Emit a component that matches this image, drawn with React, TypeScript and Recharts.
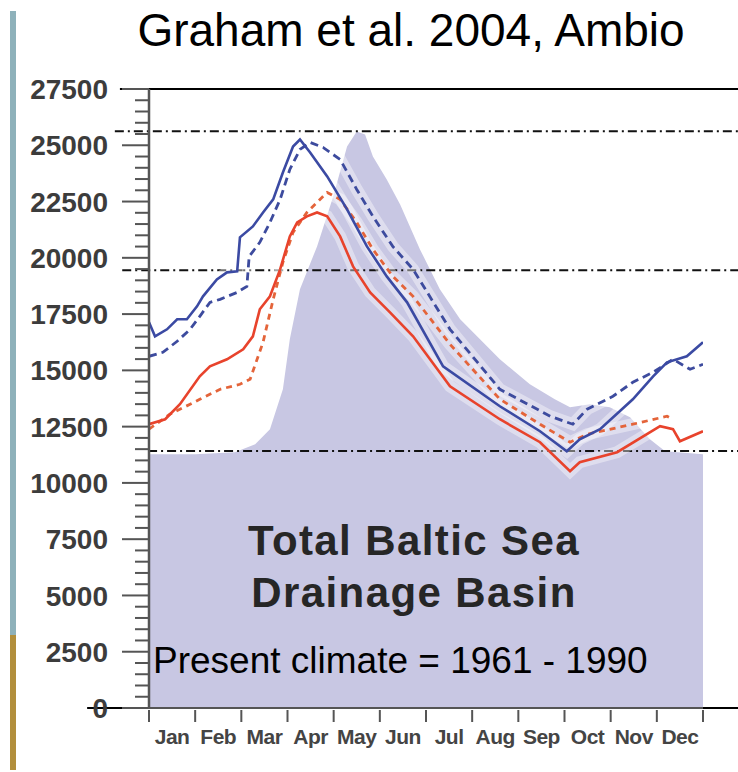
import React from 'react';
import { ComposedChart, Area, Line, XAxis, YAxis, ReferenceLine } from 'recharts';

// ---- categories / tick labels ----
const MONTHS = ['Jan', 'Feb', 'Mar', 'Apr', 'May', 'Jun', 'Jul', 'Aug', 'Sep', 'Oct', 'Nov', 'Dec'];
const MONTH_BOUNDS = [0, 1, 2, 3, 4, 5, 6, 7, 8, 9, 10, 11, 12];
const Y_MAJOR = [0, 2500, 5000, 7500, 10000, 12500, 15000, 17500, 20000, 22500, 25000, 27500];
const Y_MINOR_STEP = 500;

// ---- series (m = month position, v = discharge m3/s) ----
const basinFlow = [
  { m: 0, v: 11275 }, { m: 1.0, v: 11275 }, { m: 1.86, v: 11364 }, { m: 2.3, v: 11719 },
  { m: 2.62, v: 12385 }, { m: 2.9, v: 14160 }, { m: 3.05, v: 16380 }, { m: 3.27, v: 18600 },
  { m: 3.64, v: 20508 }, { m: 3.99, v: 22728 }, { m: 4.29, v: 24947 }, { m: 4.5, v: 25613 },
  { m: 4.68, v: 25480 }, { m: 4.85, v: 24503 }, { m: 5.15, v: 23482 }, { m: 5.44, v: 22373 },
  { m: 5.87, v: 20375 }, { m: 6.3, v: 18600 }, { m: 6.74, v: 17268 }, { m: 7.17, v: 16380 },
  { m: 7.6, v: 15492 }, { m: 8.25, v: 14382 }, { m: 8.79, v: 13717 }, { m: 9.12, v: 13361 },
  { m: 9.55, v: 13495 }, { m: 9.98, v: 13361 }, { m: 10.42, v: 12918 }, { m: 10.85, v: 11941 },
  { m: 11.18, v: 11408 }, { m: 12, v: 11275 },
];

const blueSolid = [
  { m: 0, v: 17135 }, { m: 0.13, v: 16513 }, { m: 0.39, v: 16824 }, { m: 0.61, v: 17268 },
  { m: 0.82, v: 17268 }, { m: 1.04, v: 17845 }, { m: 1.17, v: 18289 }, { m: 1.47, v: 19043 },
  { m: 1.69, v: 19354 }, { m: 1.91, v: 19398 }, { m: 1.97, v: 20908 }, { m: 2.25, v: 21396 },
  { m: 2.47, v: 22017 }, { m: 2.69, v: 22595 }, { m: 2.9, v: 23793 }, { m: 3.12, v: 24947 },
  { m: 3.27, v: 25258 }, { m: 3.49, v: 24681 }, { m: 3.86, v: 23615 }, { m: 4.29, v: 22151 },
  { m: 4.72, v: 20508 }, { m: 5.15, v: 19176 }, { m: 5.59, v: 18022 }, { m: 6.37, v: 15181 },
  { m: 7.6, v: 13406 }, { m: 8.47, v: 12296 }, { m: 9.05, v: 11408 }, { m: 9.33, v: 11941 },
  { m: 9.77, v: 12385 }, { m: 10.48, v: 13717 }, { m: 10.92, v: 14737 }, { m: 11.22, v: 15359 },
  { m: 11.65, v: 15625 }, { m: 12, v: 16247 },
];

const blueDashed = [
  { m: 0, v: 15625 }, { m: 0.3, v: 15803 }, { m: 0.61, v: 16291 }, { m: 0.89, v: 16824 },
  { m: 1.1, v: 17401 }, { m: 1.32, v: 18022 }, { m: 1.54, v: 18155 }, { m: 1.91, v: 18466 },
  { m: 2.12, v: 18733 }, { m: 2.17, v: 20064 }, { m: 2.4, v: 20686 }, { m: 2.62, v: 21574 },
  { m: 2.84, v: 22595 }, { m: 3.05, v: 23926 }, { m: 3.27, v: 24814 }, { m: 3.49, v: 25125 },
  { m: 3.77, v: 24903 }, { m: 4.14, v: 24370 }, { m: 4.5, v: 23038 }, { m: 4.85, v: 21840 },
  { m: 5.28, v: 20508 }, { m: 5.72, v: 19487 }, { m: 6.52, v: 16824 }, { m: 7.6, v: 14160 },
  { m: 8.69, v: 12962 }, { m: 9.18, v: 12607 }, { m: 9.49, v: 13273 }, { m: 10.05, v: 13850 },
  { m: 10.48, v: 14471 }, { m: 10.92, v: 14915 }, { m: 11.35, v: 15492 }, { m: 11.72, v: 15048 },
  { m: 12, v: 15270 },
];

const redSolid = [
  { m: 0, v: 12607 }, { m: 0.35, v: 12829 }, { m: 0.67, v: 13495 }, { m: 1.1, v: 14737 },
  { m: 1.32, v: 15181 }, { m: 1.69, v: 15492 }, { m: 2.04, v: 15936 }, { m: 2.25, v: 16513 },
  { m: 2.4, v: 17712 }, { m: 2.62, v: 18289 }, { m: 2.84, v: 19487 }, { m: 3.05, v: 20952 },
  { m: 3.21, v: 21574 }, { m: 3.42, v: 21840 }, { m: 3.64, v: 22017 }, { m: 3.86, v: 21840 },
  { m: 4.14, v: 20952 }, { m: 4.42, v: 19620 }, { m: 4.79, v: 18466 }, { m: 5.22, v: 17578 },
  { m: 5.72, v: 16513 }, { m: 6.52, v: 14293 }, { m: 7.6, v: 12829 }, { m: 8.47, v: 11808 },
  { m: 9.12, v: 10520 }, { m: 9.33, v: 10920 }, { m: 10.14, v: 11364 }, { m: 11.07, v: 12518 },
  { m: 11.35, v: 12385 }, { m: 11.5, v: 11852 }, { m: 12, v: 12296 },
];

const redDashed = [
  { m: 0, v: 12385 }, { m: 0.45, v: 13051 }, { m: 0.89, v: 13495 }, { m: 1.1, v: 13717 },
  { m: 1.54, v: 14160 }, { m: 1.97, v: 14382 }, { m: 2.19, v: 14604 }, { m: 2.47, v: 16247 },
  { m: 2.69, v: 18155 }, { m: 2.9, v: 19798 }, { m: 3.12, v: 21130 }, { m: 3.42, v: 22017 },
  { m: 3.64, v: 22461 }, { m: 3.86, v: 22905 }, { m: 4.14, v: 22595 }, { m: 4.5, v: 21574 },
  { m: 4.85, v: 20375 }, { m: 5.28, v: 19176 }, { m: 5.72, v: 18289 }, { m: 6.52, v: 16158 },
  { m: 7.6, v: 13717 }, { m: 8.47, v: 12607 }, { m: 9.12, v: 11808 }, { m: 9.49, v: 12163 },
  { m: 10.48, v: 12607 }, { m: 11.22, v: 12962 }, { m: 11.35, v: 12829 },
];

// horizontal reference levels
const DASHDOT_LEVELS = [25626, 19443, 11422];
const DASHDOT_STARTS = [-0.74, -0.58, -0.02];
const TOP_LEVEL = 27500;

// ---- layout ----
const W = 738;
const H = 772;
const PLOT_LEFT = 149;
const PLOT_RIGHT = 703;
const PLOT_TOP = 89;
const PLOT_BOTTOM = 708;
const X_MAX = 12;
const HALF_MONTH = (PLOT_RIGHT - PLOT_LEFT) / X_MAX / 2;
const FONT = '"Liberation Sans", Arial, Helvetica, sans-serif';

const yTicks: number[] = [];
for (let t = 0; t <= 27500; t += Y_MINOR_STEP) yTicks.push(t);

const YTick = (props: any) => {
  const { x, y, payload } = props;
  const v = payload.value as number;
  const major = Y_MAJOR.includes(v);
  return (
    <g>
      <line x1={x - (major ? 27 : 14)} x2={x} y1={y} y2={y} stroke="#555" strokeWidth={2} />
      {major && (
        <text x={x - 41} y={y} dy="0.36em" textAnchor="end" fontFamily={FONT} fontWeight="bold"
          fontSize={28} fill="#3c3c3c">{v}</text>
      )}
    </g>
  );
};

const XTick = (props: any) => {
  const { x, y, payload } = props;
  const i = payload.value as number;
  return (
    <g>
      <line x1={x} x2={x} y1={y + 2} y2={y + 14} stroke="#555" strokeWidth={2} />
      {i < MONTHS.length && (
        <text x={x + HALF_MONTH} y={y + 36} textAnchor="middle" fontFamily={FONT} fontWeight="bold"
          fontSize={21} letterSpacing={-0.5} fill="#444">{MONTHS[i]}</text>
      )}
    </g>
  );
};

const xRight = X_MAX + (W - PLOT_RIGHT) / ((PLOT_RIGHT - PLOT_LEFT) / X_MAX);

export default function App() {
  return (
    <div style={{ position: 'absolute', left: 0, top: 0, width: W, height: H, background: '#fff', overflow: 'hidden' }}>
      <div style={{ position: 'absolute', left: 10, top: 11, width: 6, height: 624, background: '#8eb1ba' }} />
      <div style={{ position: 'absolute', left: 10, top: 635, width: 6, height: 135, background: '#b28f3c' }} />
      <ComposedChart
        width={W}
        height={H}
        margin={{ top: PLOT_TOP, right: W - PLOT_RIGHT, bottom: 0, left: 0 }}
      >
        <XAxis
          type="number"
          dataKey="m"
          domain={[0, X_MAX]}
          ticks={MONTH_BOUNDS}
          interval={0}
          allowDataOverflow
          height={H - PLOT_BOTTOM}
          tickSize={0}
          tickMargin={0}
          tickLine={false}
          axisLine={{ stroke: '#555', strokeWidth: 2 }}
          tick={<XTick />}
        />
        <YAxis
          type="number"
          dataKey="v"
          domain={[0, 27500]}
          ticks={yTicks}
          interval={0}
          allowDataOverflow
          width={PLOT_LEFT}
          tickSize={0}
          tickMargin={0}
          tickLine={false}
          axisLine={{ stroke: '#555', strokeWidth: 2.5 }}
          tick={<YTick />}
        />
        <Area data={basinFlow} dataKey="v" type="linear" fill="#c8c7e3" fillOpacity={1} stroke="none"
          isAnimationActive={false} dot={false} activeDot={false} />
        {DASHDOT_LEVELS.map((lv, i) => (
          <ReferenceLine key={'dd' + i} ifOverflow="visible"
            segment={[{ x: DASHDOT_STARTS[i], y: lv }, { x: xRight, y: lv }]}
            stroke="#111" strokeWidth={2} strokeDasharray="9 4 2 4" />
        ))}
        <Line data={blueDashed} dataKey="v" type="linear" stroke="#ffffff" strokeOpacity={0.4} strokeWidth={12}
          dot={false} activeDot={false} isAnimationActive={false} />
        <Line data={redDashed} dataKey="v" type="linear" stroke="#ffffff" strokeOpacity={0.4} strokeWidth={12}
          dot={false} activeDot={false} isAnimationActive={false} />
        <Line data={blueSolid} dataKey="v" type="linear" stroke="#ffffff" strokeOpacity={0.4} strokeWidth={12}
          dot={false} activeDot={false} isAnimationActive={false} />
        <Line data={redSolid} dataKey="v" type="linear" stroke="#ffffff" strokeOpacity={0.4} strokeWidth={12}
          dot={false} activeDot={false} isAnimationActive={false} />
        <Line data={blueDashed} dataKey="v" type="linear" stroke="#3d4b9e" strokeWidth={2.8} strokeDasharray="8 5"
          dot={false} activeDot={false} isAnimationActive={false} />
        <Line data={redDashed} dataKey="v" type="linear" stroke="#e4643a" strokeWidth={2.8} strokeDasharray="6 5"
          dot={false} activeDot={false} isAnimationActive={false} />
        <Line data={blueSolid} dataKey="v" type="linear" stroke="#3b4aa3" strokeWidth={2.6}
          dot={false} activeDot={false} isAnimationActive={false} />
        <Line data={redSolid} dataKey="v" type="linear" stroke="#e8432c" strokeWidth={2.6}
          dot={false} activeDot={false} isAnimationActive={false} />
        <ReferenceLine ifOverflow="visible"
          segment={[{ x: -0.63, y: TOP_LEVEL }, { x: xRight, y: TOP_LEVEL }]}
          stroke="#000" strokeWidth={2} />
        <ReferenceLine ifOverflow="visible"
          segment={[{ x: -1.34, y: 0 }, { x: xRight, y: 0 }]}
          stroke="#000" strokeWidth={2} />
      </ComposedChart>
      <svg width={W} height={H} style={{ position: 'absolute', left: 0, top: 0, pointerEvents: 'none' }}>
        <text x={411} y={46} textAnchor="middle" fontFamily={FONT} fontSize={46} fill="#000">
          Graham et al. 2004, Ambio
        </text>
        <text x={414} y={555} textAnchor="middle" fontFamily={FONT} fontWeight="bold" fontSize={42}
          letterSpacing={1.4} fill="#262626">Total Baltic Sea</text>
        <text x={414} y={607} textAnchor="middle" fontFamily={FONT} fontWeight="bold" fontSize={42}
          letterSpacing={1.4} fill="#262626">Drainage Basin</text>
        <text x={153} y={673} textAnchor="start" fontFamily={FONT} fontSize={37} fill="#000">
          Present climate = 1961 - 1990
        </text>
      </svg>
    </div>
  );
}
